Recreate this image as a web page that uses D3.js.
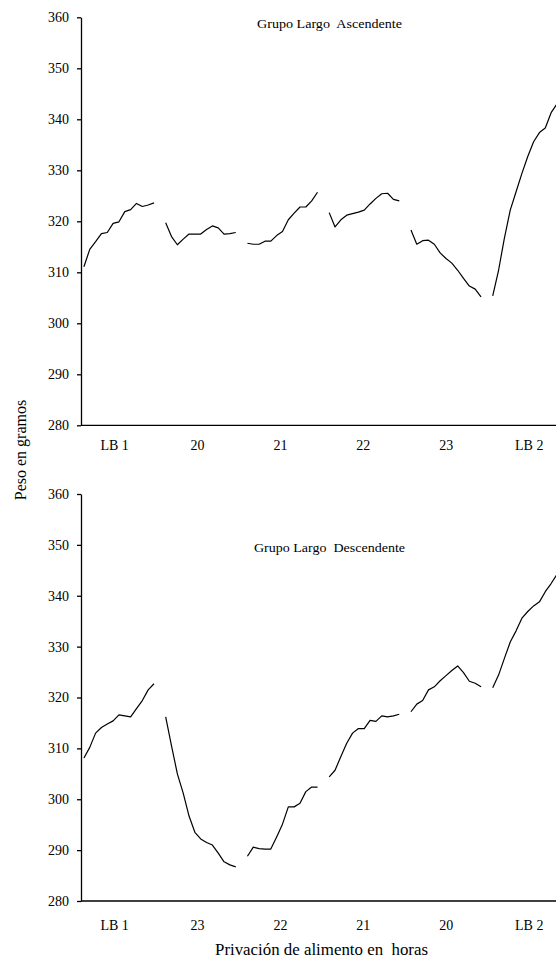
<!DOCTYPE html>
<html>
<head>
<meta charset="utf-8">
<script src="https://cdn.jsdelivr.net/npm/d3@7"></script>
<style>
  html, body { margin: 0; padding: 0; background: #fff; }
  svg { display: block; }
  svg text { font-family: "Liberation Serif", "Times New Roman", Times, "DejaVu Serif", serif !important; fill: #000; }
</style>
</head>
<body>
<svg id="chart" width="556" height="960"></svg>
<script>
// ---------- DATA ----------
const yTicks = [280, 290, 300, 310, 320, 330, 340, 350, 360];

// Top panel: Grupo Largo Ascendente
const topTitle = "Grupo Largo  Ascendente";
const topCategories = ["LB 1", "20", "21", "22", "23", "LB 2"];
const topLB1 = [311.1, 314.5, 316.0, 317.6, 317.8, 319.6, 319.9, 321.9, 322.3, 323.5, 322.9, 323.2, 323.6];
const top20  = [319.7, 317.0, 315.4, 316.5, 317.5, 317.5, 317.5, 318.4, 319.1, 318.7, 317.5, 317.6, 317.8];
const top21  = [315.7, 315.5, 315.5, 316.1, 316.1, 317.2, 318.0, 320.3, 321.6, 322.8, 322.8, 324.0, 325.7];
const top22  = [321.7, 318.9, 320.3, 321.2, 321.5, 321.8, 322.2, 323.4, 324.5, 325.4, 325.5, 324.3, 324.0];
const top23  = [318.3, 315.5, 316.2, 316.3, 315.5, 313.8, 312.7, 311.8, 310.4, 308.8, 307.3, 306.7, 305.2];
const topLB2 = [305.4, 310.4, 316.7, 322.2, 325.8, 329.4, 332.7, 335.6, 337.4, 338.3, 341.3, 343.0];

// Bottom panel: Grupo Largo Descendente
const botTitle = "Grupo Largo  Descendente";
const botCategories = ["LB 1", "23", "22", "21", "20", "LB 2"];
const botLB1 = [308.1, 310.2, 313.0, 314.1, 314.8, 315.4, 316.6, 316.4, 316.2, 317.8, 319.4, 321.5, 322.7];
const bot23  = [316.2, 310.5, 305.0, 301.2, 296.7, 293.5, 292.2, 291.5, 291.0, 289.4, 287.7, 287.1, 286.7];
const bot22  = [288.8, 290.6, 290.3, 290.2, 290.2, 292.6, 295.1, 298.5, 298.5, 299.2, 301.5, 302.4, 302.4];
const bot21  = [304.4, 305.7, 308.4, 311.0, 313.0, 313.9, 313.9, 315.5, 315.3, 316.4, 316.2, 316.4, 316.7];
const bot20  = [317.2, 318.7, 319.4, 321.5, 322.1, 323.3, 324.3, 325.3, 326.2, 324.9, 323.2, 322.8, 322.1];
const botLB2 = [321.9, 324.4, 327.7, 330.9, 333.1, 335.6, 336.9, 338.0, 338.8, 340.8, 342.4, 344.2];

const yTitle = "Peso en gramos";
const xTitle = "Privación de alimento en  horas";

// ---------- LAYOUT ----------
const FONT = '"Liberation Serif", "Times New Roman", Times, "DejaVu Serif", serif';
const svg = d3.select("#chart");
const W = 556;
const slotsPerBlock = 14;     // 13 readings + 1 gap
const totalSlots = 84;
const slotW = 5.84;
const plotLeft = 81;
const x = d3.scaleLinear().domain([0, totalSlots]).range([plotLeft, plotLeft + totalSlots * slotW]);

function buildSeries(blocks) {
  const out = [];
  blocks.forEach((b, k) => {
    b.forEach((v, j) => out.push({ slot: k * slotsPerBlock + j, v: v }));
    out.push({ slot: k * slotsPerBlock + b.length, v: null });
  });
  return out;
}

function drawPanel(cfg) {
  const g = svg.append("g");
  const y = d3.scaleLinear().domain([280, 360]).range([cfg.bottom, cfg.top]);

  // y axis
  const yAxis = d3.axisLeft(y).tickValues(yTicks).tickSize(4).tickPadding(8).tickSizeOuter(0);
  const ya = g.append("g").attr("transform", `translate(${plotLeft},0)`).call(yAxis)
    .attr("font-family", FONT).attr("font-size", 14);
  ya.select(".domain").attr("stroke", "#000").attr("stroke-width", 1.3);
  ya.selectAll(".tick line").attr("stroke", "#000").attr("stroke-width", 1.3);
  ya.selectAll(".tick text").attr("fill", "#000");

  // x axis line
  g.append("line")
    .attr("x1", plotLeft).attr("x2", W + 2)
    .attr("y1", y(280)).attr("y2", y(280))
    .attr("stroke", "#000").attr("stroke-width", 1.3);

  // category labels
  g.selectAll(".cat").data(cfg.categories).enter().append("text")
    .attr("class", "cat")
    .attr("x", (d, i) => x(5.75 + i * 14.2))
    .attr("y", cfg.catY)
    .attr("text-anchor", "middle")
    .attr("font-family", FONT)
    .style("font-size", "14px")
    .text(d => d);

  // title
  g.append("text")
    .attr("x", cfg.titleX).attr("y", cfg.titleY)
    .attr("textLength", cfg.titleLen).attr("lengthAdjust", "spacingAndGlyphs")
    .attr("font-family", FONT)
    .style("font-size", "12.5px")
    .style("white-space", "pre")
    .text(cfg.title);

  // data line
  const data = buildSeries(cfg.blocks);
  const line = d3.line()
    .defined(d => d.v !== null)
    .x(d => x(d.slot + 0.5))
    .y(d => y(d.v));
  g.append("path")
    .datum(data)
    .attr("d", line)
    .attr("fill", "none")
    .attr("stroke", "#000")
    .attr("stroke-width", 1.2)
    .attr("stroke-linejoin", "round");
}

drawPanel({
  top: 17.3, bottom: 425.3, catY: 450,
  categories: topCategories,
  title: topTitle, titleX: 257, titleY: 28, titleLen: 145,
  blocks: [topLB1, top20, top21, top22, top23, topLB2]
});

drawPanel({
  top: 494, bottom: 901, catY: 930,
  categories: botCategories,
  title: botTitle, titleX: 254, titleY: 552, titleLen: 151,
  blocks: [botLB1, bot23, bot22, bot21, bot20, botLB2]
});

// axis titles
svg.append("text")
  .attr("transform", "translate(26,450) rotate(-90)")
  .attr("text-anchor", "middle")
  .attr("font-family", FONT)
  .style("font-size", "16px")
  .text(yTitle);

svg.append("text")
  .attr("x", 215).attr("y", 955)
  .attr("textLength", 213).attr("lengthAdjust", "spacingAndGlyphs")
  .attr("font-family", FONT)
  .style("font-size", "16.5px")
  .style("white-space", "pre")
  .text(xTitle);
</script>
</body>
</html>
